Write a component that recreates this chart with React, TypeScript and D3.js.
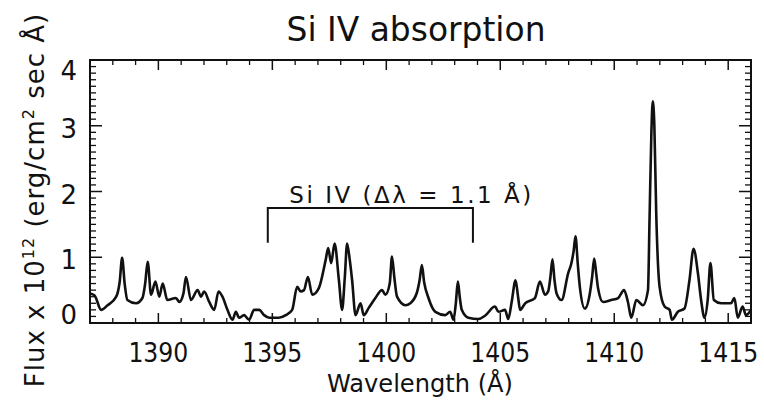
import React from "react";
import * as d3 from "d3";

// spectrum (wavelength in Å, flux in 1e-12 erg/cm2/s/Å)
const wavelength = [
  1387.0, 1387.2, 1387.49, 1387.77, 1388.15, 1388.3, 1388.41, 1388.52, 1388.64, 1389.02, 1389.3,
  1389.42, 1389.53, 1389.68, 1389.87, 1390.04, 1390.19, 1390.39, 1390.77, 1390.92, 1391.1,
  1391.21, 1391.43, 1391.72, 1391.87, 1392.01, 1392.23, 1392.45, 1392.64, 1392.81, 1393.03,
  1393.25, 1393.4, 1393.54, 1393.76, 1393.98, 1394.2, 1394.42, 1394.64, 1394.86, 1395.29,
  1395.59, 1395.87, 1396.09, 1396.24, 1396.39, 1396.56, 1396.75, 1397.04, 1397.34, 1397.45,
  1397.58, 1397.73, 1397.92, 1398.06, 1398.18, 1398.28, 1398.4, 1398.5, 1398.65, 1398.87,
  1399.01, 1399.23, 1399.52, 1399.81, 1399.96, 1400.15, 1400.25, 1400.35, 1400.47, 1400.84,
  1401.05, 1401.34, 1401.46, 1401.56, 1401.66, 1401.85, 1402.15, 1402.59, 1402.8, 1402.95,
  1403.05, 1403.14, 1403.22, 1403.31, 1403.6, 1404.04, 1404.33, 1404.77, 1404.92, 1405.21,
  1405.35, 1405.5, 1405.67, 1405.78, 1405.87, 1406.09, 1406.52, 1406.74, 1406.96, 1407.1,
  1407.2, 1407.29, 1407.38, 1407.47, 1407.69, 1407.98, 1408.12, 1408.22, 1408.3, 1408.4,
  1408.49, 1408.71, 1408.93, 1409.03, 1409.12, 1409.21, 1409.29, 1409.51, 1409.87, 1410.17,
  1410.43, 1410.6, 1410.75, 1410.97, 1411.26, 1411.48, 1411.55, 1411.63, 1411.69, 1411.76,
  1411.84, 1411.99, 1412.21, 1412.43, 1412.53, 1412.79, 1413.08, 1413.3, 1413.48, 1413.67,
  1413.81, 1413.96, 1414.1, 1414.22, 1414.37, 1414.69, 1415.12, 1415.27, 1415.42, 1415.63,
  1415.78, 1416.0,
];
const flux = [
  0.45, 0.42, 0.2, 0.27, 0.4, 0.62, 0.99, 0.6, 0.35, 0.3, 0.38,
  0.6, 0.93, 0.43, 0.63, 0.4, 0.6, 0.35, 0.38, 0.32, 0.45,
  0.7, 0.35, 0.5, 0.4, 0.48, 0.32, 0.2, 0.48, 0.4, 0.2,
  0.05, 0.17, 0.08, 0.12, 0.05, 0.2, 0.2, 0.12, 0.08, 0.08,
  0.12, 0.2, 0.55, 0.48, 0.5, 0.7, 0.43, 0.53, 0.96, 1.14,
  0.91, 1.21, 0.65, 0.2, 0.7, 1.21, 0.95, 0.65, 0.12, 0.3,
  0.12, 0.23, 0.38, 0.5, 0.43, 0.6, 1.01, 0.7, 0.4, 0.27,
  0.3, 0.46, 0.65, 0.88, 0.62, 0.38, 0.17, 0.12, 0.17, 0.05,
  0.3, 0.63, 0.4, 0.2, 0.08, 0.06, 0.11, 0.25, 0.17, 0.2,
  0.06, 0.32, 0.65, 0.4, 0.2, 0.3, 0.38, 0.63, 0.43, 0.48,
  0.7, 0.97, 0.65, 0.45, 0.35, 0.76, 0.91, 1.1, 1.32, 0.9,
  0.55, 0.22, 0.45, 0.7, 0.98, 0.75, 0.53, 0.32, 0.35, 0.38,
  0.5, 0.32, 0.08, 0.35, 0.27, 0.5, 1.6, 2.9, 3.37, 3.0,
  1.7, 0.55, 0.25, 0.2, 0.05, 0.17, 0.22, 0.65, 1.13, 0.76,
  0.35, 0.08, 0.35, 0.91, 0.35, 0.3, 0.3, 0.38, 0.08, 0.25,
  0.12, 0.2,
];

const xMajor = [1390, 1395, 1400, 1405, 1410, 1415];
const yMajor = [0, 1, 2, 3, 4];

const bracket = { from: 1394.8, to: 1403.8, top: 1.75, leg: 1.22 };
const bracketLabel = { x: 1401.05, y: 1.83, text: "Si IV (Δλ = 1.1 Å)" };

const W = 764;
const H = 407;
const FONT = "'DejaVu Sans', 'Liberation Sans', sans-serif";

export default function App() {
  const x = d3.scaleLinear().domain([1387, 1416]).range([90, 751]);
  const y = d3.scaleLinear().domain([0, 4]).range([323, 60]);
  const [x0, x1] = x.range();
  const [y0, y1] = y.range();

  const pts = wavelength.map((w, i) => [w, flux[i]] as [number, number]);
  const line = d3
    .line<[number, number]>()
    .x((d) => x(d[0]))
    .y((d) => y(d[1]))
    .curve(d3.curveMonotoneX);

  const xMinor = d3.range(1387, 1417, 1).filter((v) => v % 5 !== 0);
  const yMinor = d3.range(1, 40).map((v) => v / 10).filter((v) => Math.round(v * 10) % 10 !== 0);

  const ink = "#111";

  return (
    <svg width={W} height={H} style={{ position: "absolute", left: 0, top: 0, background: "#fff" }}>
      <rect x={0} y={0} width={W} height={H} fill="#fff" />
      <text x={416} y={41} textAnchor="middle" fontFamily={FONT} fontSize={34} fill={ink} textLength={259} lengthAdjust="spacingAndGlyphs">
        Si IV absorption
      </text>

      {/* x ticks, bottom and top */}
      {xMinor.map((v) => (
        <g key={"xm" + v} stroke={ink} strokeWidth={1.3}>
          <line x1={x(v)} x2={x(v)} y1={y0} y2={y0 - 5} />
          <line x1={x(v)} x2={x(v)} y1={y1} y2={y1 + 5} />
        </g>
      ))}
      {xMajor.map((v) => (
        <g key={"xM" + v}>
          <line x1={x(v)} x2={x(v)} y1={y0} y2={y0 - 10} stroke={ink} strokeWidth={1.5} />
          <line x1={x(v)} x2={x(v)} y1={y1} y2={y1 + 10} stroke={ink} strokeWidth={1.5} />
          <text x={x(v)} y={362} textAnchor="middle" fontFamily={FONT} fontSize={26} fill={ink} textLength={60} lengthAdjust="spacingAndGlyphs">
            {v}
          </text>
        </g>
      ))}

      {/* y ticks, left and right */}
      {yMinor.map((v) => (
        <g key={"ym" + v} stroke={ink} strokeWidth={1.3}>
          <line x1={x0} x2={x0 + 6} y1={y(v)} y2={y(v)} />
          <line x1={x1} x2={x1 - 6} y1={y(v)} y2={y(v)} />
        </g>
      ))}
      {yMajor.map((v) => (
        <g key={"yM" + v}>
          <line x1={x0} x2={x0 + 12} y1={y(v)} y2={y(v)} stroke={ink} strokeWidth={1.5} />
          <line x1={x1} x2={x1 - 12} y1={y(v)} y2={y(v)} stroke={ink} strokeWidth={1.5} />
          <text
            x={77}
            y={Math.min(Math.max(y(v) + 3, 71), 315)}
            textAnchor="end"
            dominantBaseline="central"
            fontFamily={FONT}
            fontSize={26}
            fill={ink}
          >
            {v}
          </text>
        </g>
      ))}

      <path d={line(pts) || ""} fill="none" stroke={ink} strokeWidth={2.6} strokeLinejoin="round" />

      <rect x={x0} y={y1} width={x1 - x0} height={y0 - y1} fill="none" stroke={ink} strokeWidth={2} />

      {/* doublet bracket */}
      <path
        d={`M${x(bracket.from)},${y(bracket.leg)}V${y(bracket.top)}H${x(bracket.to)}V${y(bracket.leg)}`}
        fill="none"
        stroke={ink}
        strokeWidth={2}
      />
      <text x={x(bracketLabel.x)} y={y(bracketLabel.y)} textAnchor="middle" fontFamily={FONT} fontSize={23} fill={ink} textLength={242} lengthAdjust="spacing">
        {bracketLabel.text}
      </text>

      <text x={420} y={392} textAnchor="middle" fontFamily={FONT} fontSize={25} fill={ink} textLength={186} lengthAdjust="spacingAndGlyphs">
        Wavelength (Å)
      </text>

      <text
        transform={`translate(44,200) rotate(-90)`}
        textAnchor="middle"
        fontFamily={FONT}
        fontSize={26}
        fill={ink}
        letterSpacing={1}
      >
        Flux x 10
        <tspan fontSize={16} dy={-10}>12</tspan>
        <tspan dy={10}> (erg/cm</tspan>
        <tspan fontSize={16} dy={-10}>2</tspan>
        <tspan dy={10}> sec Å)</tspan>
      </text>
    </svg>
  );
}
